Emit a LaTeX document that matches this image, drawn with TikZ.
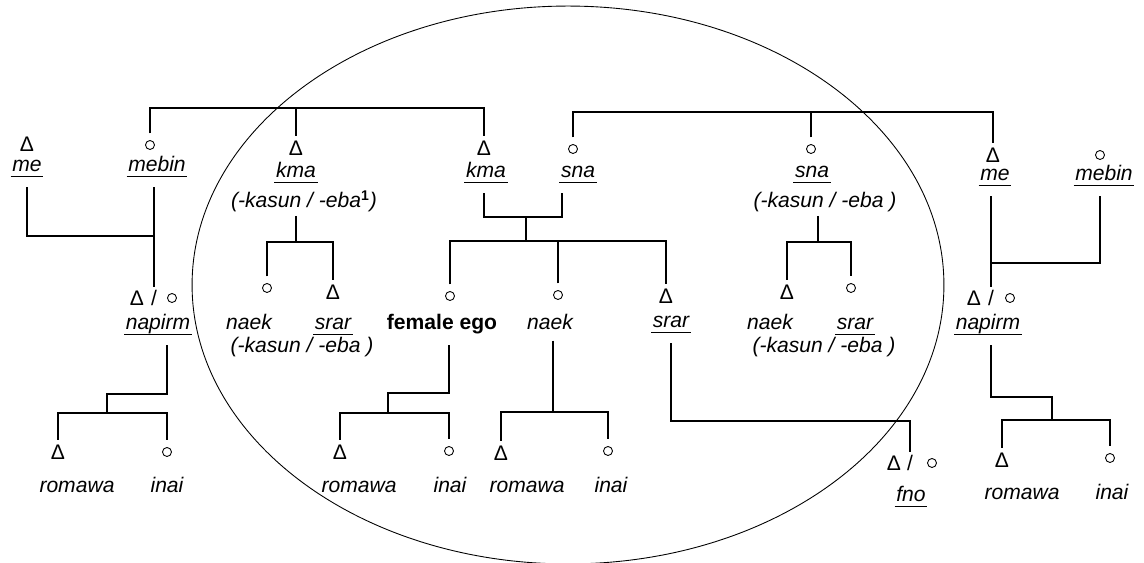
\documentclass[tikz,border=0pt]{standalone}
\usepackage{fontspec}
\setmainfont{Liberation Sans}
\usetikzlibrary{positioning}
\newcommand\kinfont{\fontsize{12}{14}\selectfont}
\newcommand\uword[1]{\setbox0\hbox{#1}\rlap{\kern-1pt\rule[-2.8pt]{\dimexpr\wd0+2pt\relax}{0.55pt}}\box0}

\tikzset{
  male/.style={inner sep=0pt, outer sep=0.1cm, font=\kinfont},
  fem/.style={circle, draw, line width=0.5pt, minimum size=0.18cm, inner sep=0pt, outer sep=0.14cm},
  slash/.style={inner sep=0pt, outer sep=0.06cm, font=\kinfont},
  kin/.style={anchor=base, inner sep=1pt, outer sep=5pt, font=\kinfont\itshape},
  note/.style={kin, outer sep=1pt},
}

\begin{document}
\begin{tikzpicture}[x=0.02cm, y=-0.02cm, line width=0.8pt]
  \useasboundingbox (0,0) rectangle (1144,563);
  \draw[line width=0.5pt] (568,285) ellipse [x radius=7.52cm, y radius=5.58cm];

  % parents
  \node[male] (meL) at (27,144) {Δ};
  \node[kin] (meLlab) at (27,172) {\uword{me}};
  \node[fem] (mebinL) at (150,145) {};
  \node[kin] (mebinLlab) at (157,172) {\uword{mebin}};
  \node[male] (kmaA) at (296,148) {Δ};
  \node[kin] (kmaAlab) at (296,178) {\uword{kma}};
  \node[note] (kmaAnote) at (304,208) {(-kasun / -eba\textsuperscript{\upshape\bfseries 1})};
  \node[male] (kmaB) at (484,148) {Δ};
  \node[kin] (kmaBlab) at (486,178) {\uword{kma}};
  \node[fem] (snaA) at (573,149) {};
  \node[kin] (snaAlab) at (578,178) {\uword{sna}};
  \node[fem] (snaB) at (811,149) {};
  \node[kin] (snaBlab) at (812,178) {\uword{sna}};
  \node[note] (snaBnote) at (825,208) {(-kasun / -eba )};
  \node[male] (meR) at (993,155) {Δ};
  \node[kin] (meRlab) at (995,181) {\uword{me}};
  \node[fem] (mebinR) at (1100,155) {};
  \node[kin] (mebinRlab) at (1104,181) {\uword{mebin}};

  % ego's generation
  \node[male] (napLm) at (137,298) {Δ};
  \node[slash] (napLs) at (154,298) {/};
  \node[fem] (napLf) at (172,298) {};
  \node[kin] (napLlab) at (158,330) {\uword{napirm}};
  \node[fem] (naekA) at (267,288) {};
  \node[kin] (naekAlab) at (249,330) {naek};
  \node[male] (srarA) at (333,292) {Δ};
  \node[kin] (srarAlab) at (333,330) {\uword{srar}};
  \node[note] (kAnote) at (302,353) {(-kasun / -eba )};
  \node[fem] (ego) at (450,296) {};
  \node[kin, font=\kinfont\bfseries] (egolab) at (442,330) {female ego};
  \node[fem] (naekM) at (558,295) {};
  \node[kin] (naekMlab) at (550,330) {naek};
  \node[male] (srarM) at (666,296) {Δ};
  \node[kin] (srarMlab) at (671,328) {\uword{srar}};
  \node[male] (naekB) at (787,292) {Δ};
  \node[kin] (naekBlab) at (770,330) {naek};
  \node[fem] (srarB) at (851,288) {};
  \node[kin] (srarBlab) at (855,330) {\uword{srar}};
  \node[note] (kBnote) at (824,353) {(-kasun / -eba )};
  \node[male] (napRm) at (974,298) {Δ};
  \node[slash] (napRs) at (991,298) {/};
  \node[fem] (napRf) at (1010,298) {};
  \node[kin] (napRlab) at (988,330) {\uword{napirm}};

  % children
  \node[male] (romL) at (58,452) {Δ};
  \node[kin] (romLlab) at (77,493) {romawa};
  \node[fem] (inaiL) at (167,452) {};
  \node[kin] (inaiLlab) at (167,493) {inai};
  \node[male] (romE) at (340,452) {Δ};
  \node[kin] (romElab) at (359,493) {romawa};
  \node[fem] (inaiE) at (449,451) {};
  \node[kin] (inaiElab) at (450,493) {inai};
  \node[male] (romN) at (501,453) {Δ};
  \node[kin] (romNlab) at (527,493) {romawa};
  \node[fem] (inaiN) at (608,451) {};
  \node[kin] (inaiNlab) at (611,493) {inai};
  \node[male] (fnoM) at (894,463) {Δ};
  \node[slash] (fnoS) at (910,463) {/};
  \node[fem] (fnoF) at (932,463) {};
  \node[kin] (fnolab) at (911,502) {\uword{fno}};
  \node[male] (romR) at (1002,460) {Δ};
  \node[kin] (romRlab) at (1022,500) {romawa};
  \node[fem] (inaiR) at (1110,458) {};
  \node[kin] (inaiRlab) at (1112,500) {inai};

  % sibling bars
  \coordinate (barL) at (0,108);
  \coordinate (barR) at (0,112);
  \draw (mebinL.north) |- (barL -| kmaB) -- (kmaB.north);
  \draw (kmaA.north) -- (barL -| kmaA);
  \draw (snaA.north) |- (barR -| meR) -- (meR.north);
  \draw (snaB.north) -- (barR -| snaB);

  % marriages
  \coordinate (jL) at (154,236);
  \draw (meLlab.south) |- (jL);
  \draw (mebinLlab.south -| napLs) -- (napLs.north);
  \coordinate (mL) at (484,217);
  \coordinate (mM) at (526,217);
  \coordinate (mR) at (562,217);
  \draw (kmaBlab.south -| mL) -- (mL) -- (mR) -- (snaAlab.south -| mR);
  \coordinate (cbar) at (526,241);
  \draw (mM) -- (cbar);
  \draw (ego.north) |- (cbar) -| (srarM.north);
  \draw (naekM.north) -- (naekM |- cbar);
  \coordinate (jR) at (992,263);
  \draw (meRlab.south -| napRs) -- (napRs.north);
  \draw (mebinRlab.south -| mebinR) |- (jR);

  % cousins
  \coordinate (kA) at (296,242);
  \draw (kmaAnote.south -| kA) -- (kA);
  \draw (naekA.north) |- (kA) -| (srarA.north);
  \coordinate (kB) at (818,242);
  \draw (snaBnote.south -| kB) -- (kB);
  \draw (naekB.north) |- (kB) -| (srarB.north);

  % next generation
  \coordinate (jL2) at (107,394);
  \coordinate (bL) at (107,413);
  \draw (napLlab.south -| inaiL) |- (jL2) -- (bL);
  \draw (romL.north) |- (bL) -| (inaiL.north);
  \coordinate (jE) at (388,393);
  \coordinate (bE) at (388,413);
  \draw (egolab.south -| inaiE) |- (jE) -- (bE);
  \draw (romE.north) |- (bE) -| (inaiE.north);
  \coordinate (bN) at (553,412);
  \draw (naekMlab.south -| bN) -- (bN);
  \draw (romN.north) |- (bN) -| (inaiN.north);
  \coordinate (jF) at (910,421);
  \draw (srarMlab.south) |- (jF) -- (fnoS.north);
  \coordinate (jR2) at (1052,397);
  \coordinate (bR) at (1052,420);
  \draw (napRlab.south -| napRs) |- (jR2) -- (bR);
  \draw (romR.north) |- (bR) -| (inaiR.north);
\end{tikzpicture}
\end{document}
